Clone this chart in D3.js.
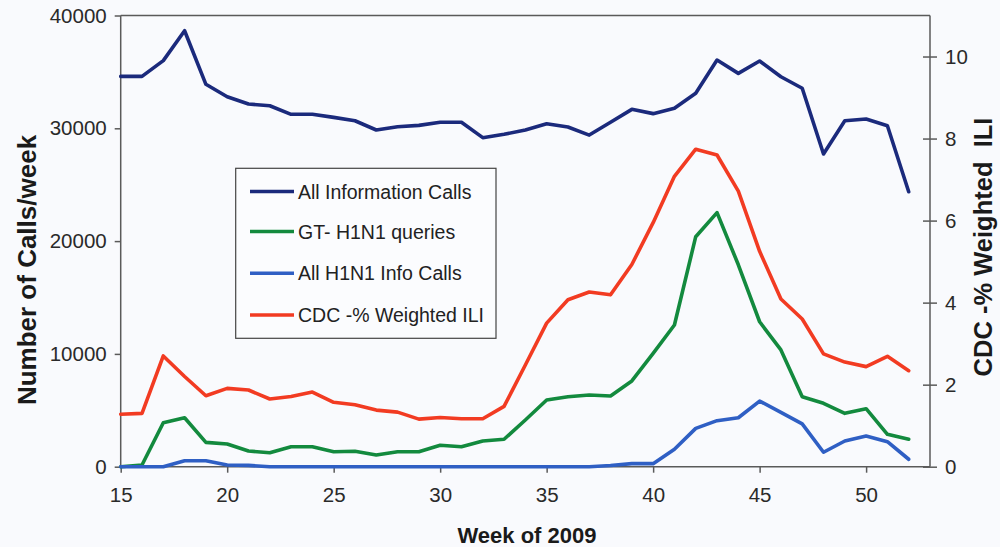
<!DOCTYPE html>
<html>
<head>
<meta charset="utf-8">
<script src="https://cdn.jsdelivr.net/npm/d3@7"></script>
<style>
  html, body { margin: 0; padding: 0; background: #f9fafd; }
  svg { display: block; }
  text { font-family: "Liberation Sans", Arial, sans-serif; }
</style>
</head>
<body>
<svg id="chart" width="1000" height="547"></svg>
<script>
// ---- Data ----
const weeks = [15,16,17,18,19,20,21,22,23,24,25,26,27,28,29,30,31,32,33,34,35,36,37,38,39,40,41,42,43,44,45,46,47,48,49,50,51,52];

const allInfoCalls = [34600,34600,36000,38650,33900,32800,32150,32000,31240,31240,30970,30670,29850,30140,30260,30530,30530,29170,29470,29850,30400,30110,29400,30530,31680,31300,31770,33100,36050,34870,35970,34570,33550,27720,30670,30820,30230,24380];

const gtQueries = [0,150,3900,4340,2160,2010,1390,1240,1770,1770,1330,1365,1040,1330,1330,1900,1770,2280,2430,4140,5910,6200,6360,6270,7600,10050,12560,20390,22520,17900,12850,10350,6200,5620,4730,5140,2870,2430];

const h1n1InfoCalls = [0,0,0,530,530,150,120,0,0,0,0,0,0,0,0,0,0,0,0,0,0,0,0,100,270,270,1540,3400,4080,4340,5820,4820,3790,1280,2280,2720,2220,660];

const cdcILI = [1.28,1.30,2.70,2.20,1.73,1.91,1.87,1.65,1.71,1.82,1.57,1.51,1.38,1.33,1.16,1.20,1.17,1.17,1.47,2.48,3.50,4.07,4.26,4.19,4.93,5.95,7.08,7.74,7.60,6.72,5.25,4.09,3.60,2.75,2.55,2.44,2.69,2.34];

const xTicks = [15,20,25,30,35,40,45,50];
const leftTicks = [0,10000,20000,30000,40000];
const rightTicks = [0,2,4,6,8,10];

const seriesNames = ["All Information Calls","GT- H1N1 queries","All H1N1 Info Calls","CDC -% Weighted ILI"];
const seriesColors = ["#1b2a7c","#138a3e","#2f5fc4","#f23b22"];

// ---- Layout ----
const svg = d3.select("#chart");
const L = 120.7, R = 930, T = 15.5, B = 466.7;
const axisColor = "#5a5a5a";

const x = d3.scaleLinear().domain([15,53]).range([L,R]);
const yL = d3.scaleLinear().domain([0,40000]).range([B,T]);
const yR = d3.scaleLinear().domain([0,11]).range([B,T]);

// frame (top line)
svg.append("line").attr("x1",L).attr("x2",R).attr("y1",T).attr("y2",T)
  .attr("stroke",axisColor).attr("stroke-width",1.5);

// Left axis
const gL = svg.append("g").attr("transform",`translate(${L},0)`)
  .call(d3.axisLeft(yL).tickValues(leftTicks).tickSize(6).tickPadding(8).tickFormat(d3.format("d")));
// Right axis
const gR = svg.append("g").attr("transform",`translate(${R},0)`)
  .call(d3.axisRight(yR).tickValues(rightTicks).tickSize(7).tickPadding(8).tickFormat(d3.format("d")));
gR.selectAll(".tick line").attr("x1",-7);
// Bottom axis
const gB = svg.append("g").attr("transform",`translate(0,${B})`)
  .call(d3.axisBottom(x).tickValues(xTicks).tickSize(6).tickPadding(15).tickFormat(d3.format("d")));

[gL,gR,gB].forEach(g => {
  g.select(".domain").attr("stroke",axisColor).attr("stroke-width",1.5);
  g.selectAll(".tick line").attr("stroke",axisColor).attr("stroke-width",1.5);
  g.selectAll(".tick text").attr("fill","#2a2a2a").style("font-size","20.5px")
    .style("font-family",'"Liberation Sans", Arial, sans-serif');
});
gB.select(".domain").attr("d",`M${L},0H${R}`);
gL.select(".domain").attr("d",`M0,${B}V${T}`);
gR.select(".domain").attr("d",`M0,${B}V${T}`);

// ---- Lines ----
const data = [
  {vals: allInfoCalls, y: yL},
  {vals: gtQueries, y: yL},
  {vals: h1n1InfoCalls, y: yL},
  {vals: cdcILI, y: yR}
];
data.forEach((s,i) => {
  const line = d3.line().x((d,j) => x(weeks[j])).y(d => s.y(d));
  svg.append("path").datum(s.vals).attr("d",line)
    .attr("fill","none").attr("stroke",seriesColors[i])
    .attr("stroke-width",3.6).attr("stroke-linejoin","round").attr("stroke-linecap","round");
});

// ---- Legend ----
const lg = svg.append("g");
lg.append("rect").attr("x",235.7).attr("y",168.3).attr("width",260.3).attr("height",170)
  .attr("fill","#fbfcfe").attr("stroke","#444").attr("stroke-width",1.2);
const rowY = [191.5,231.5,273.3,315];
seriesNames.forEach((n,i) => {
  lg.append("line").attr("x1",250).attr("x2",294).attr("y1",rowY[i]).attr("y2",rowY[i])
    .attr("stroke",seriesColors[i]).attr("stroke-width",3.6);
  lg.append("text").attr("x",298).attr("y",rowY[i]).attr("dy","0.36em")
    .style("font-size","19.5px").attr("fill","#222").text(n);
});

// ---- Axis titles ----
svg.append("text").attr("x",527).attr("y",543).attr("text-anchor","middle")
  .style("font-size","22px").style("font-weight","bold").attr("fill","#1a1a1a").text("Week of 2009");
svg.append("text").attr("transform","translate(36,270) rotate(-90)").attr("text-anchor","middle")
  .style("font-size","26px").style("font-weight","bold").attr("fill","#1a1a1a").text("Number of Calls/week");
svg.append("text").attr("transform","translate(992,247) rotate(-90)").attr("text-anchor","middle")
  .style("font-size","25.5px").style("font-weight","bold").style("white-space","pre").attr("fill","#1a1a1a")
  .text("CDC -% Weighted  ILI");
</script>
</body>
</html>
